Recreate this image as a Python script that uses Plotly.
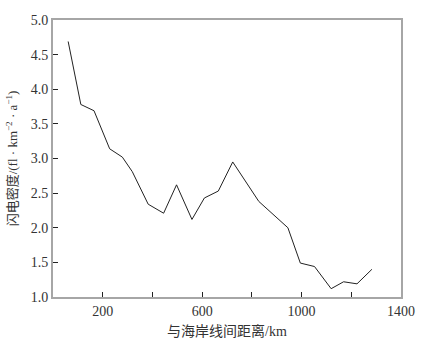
import plotly.graph_objects as go

distance_km = [61, 112, 165, 228, 279, 319, 383, 445, 497, 559, 609, 665, 723,
               828, 945, 995, 1052, 1119, 1169, 1223, 1283]
flash_density = [4.69, 3.78, 3.69, 3.14, 3.02, 2.81, 2.34, 2.21, 2.62, 2.12, 2.43,
                 2.53, 2.95, 2.38, 2.00, 1.49, 1.44, 1.12, 1.22, 1.19, 1.40]

x_tickvals = [200, 600, 1000, 1400]
x_minor_tickvals = [400, 800, 1200]
y_tickvals = [1.0, 1.5, 2.0, 2.5, 3.0, 3.5, 4.0, 4.5, 5.0]

font_family = "Liberation Serif, Noto Sans CJK SC, serif"

fig = go.Figure()
fig.add_trace(go.Scatter(
    x=distance_km, y=flash_density, mode="lines",
    line=dict(color="#222222", width=1), showlegend=False,
))

axis_common = dict(
    showline=True, linecolor="#a6a6a6", linewidth=2, mirror=True,
    ticks="inside", ticklen=5, tickcolor="#222222", tickwidth=1,
    showgrid=False, zeroline=False, automargin=False,
    tickfont=dict(family=font_family, size=14, color="#333333"),
)

fig.update_layout(
    width=432, height=350,
    margin=dict(l=53, r=31, t=20, b=53),
    plot_bgcolor="white", paper_bgcolor="white",
    font=dict(family=font_family, color="#333333"),
    xaxis=dict(range=[0, 1400], tickmode="array", tickvals=x_tickvals,
               minor=dict(tickmode="array", tickvals=x_minor_tickvals, ticks="inside",
                          ticklen=5, tickcolor="#222222", tickwidth=1, showgrid=False),
               title=dict(text="与海岸线间距离/km", font=dict(size=14), standoff=8),
               **axis_common),
    yaxis=dict(range=[1.0, 5.0], tickvals=y_tickvals, tickformat=".1f",
               title=dict(text="闪电密度/(fl · km<sup>−2</sup> · a<sup>−1</sup>)",
                          font=dict(size=13), standoff=10),
               **axis_common),
)

fig.write_html("out.html", config={"displayModeBar": False},
               post_script="document.body.style.margin='0';")
